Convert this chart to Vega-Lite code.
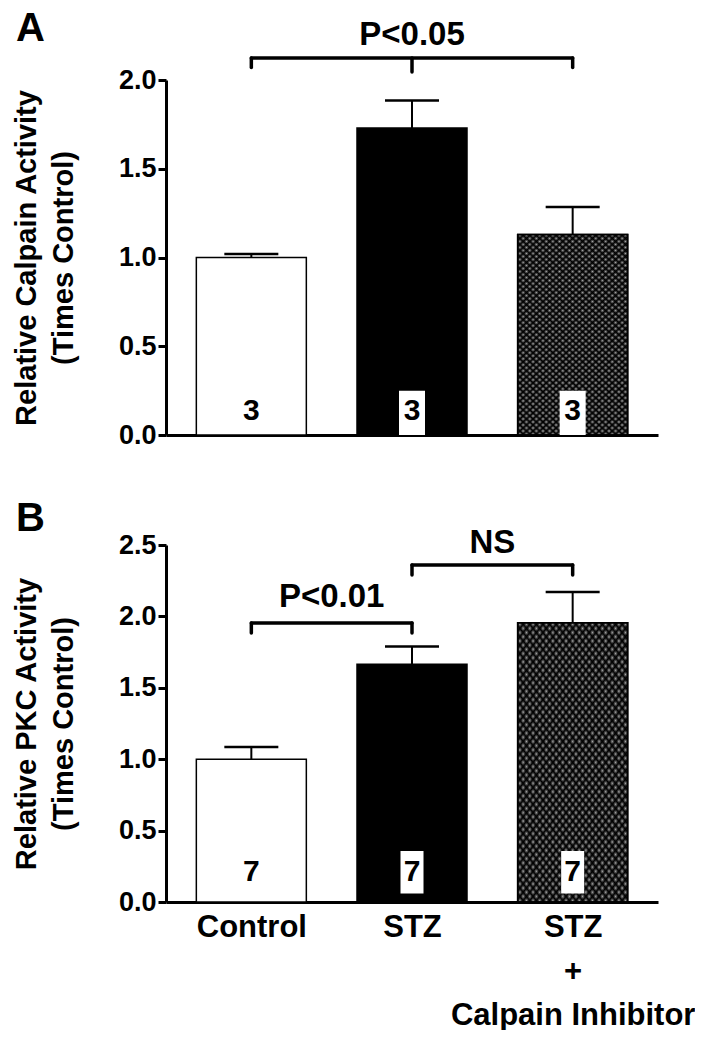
{
  "$schema": "https://vega.github.io/schema/vega-lite/v6.json",
  "background": "white",
  "padding": {"left": 12, "top": 8, "right": 0, "bottom": 0},
  "spacing": 51,
  "config": {
    "font": "Liberation Sans",
    "view": {"stroke": null},
    "axis": {"domainColor": "#000", "domainWidth": 3, "tickColor": "#000", "tickWidth": 3, "labelColor": "#000", "titleColor": "#000", "grid": false, "labelFont": "Liberation Sans", "labelFontWeight": "bold", "titleFont": "Liberation Sans", "titleFontWeight": "bold", "zindex": 1},
    "title": {"font": "Liberation Sans", "fontWeight": "bold", "fontSize": 40, "color": "#000", "anchor": "start", "frame": "group"},
    "text": {"color": "#000"}
  },
  "datasets": {
    "A": [
      {"group": "Control", "pos": 1, "mean": 1.0, "upper": 1.02, "n": "3"},
      {"group": "STZ", "pos": 2, "mean": 1.73, "upper": 1.885, "n": "3"},
      {"group": "STZ + Calpain Inhibitor", "pos": 3, "mean": 1.13, "upper": 1.285, "n": "3"}
    ],
    "B": [
      {"group": "Control", "pos": 1, "mean": 1.0, "upper": 1.085, "n": "7"},
      {"group": "STZ", "pos": 2, "mean": 1.665, "upper": 1.79, "n": "7"},
      {"group": "STZ + Calpain Inhibitor", "pos": 3, "mean": 1.955, "upper": 2.17, "n": "7"}
    ],
    "bracketsA": [
      {"label": "P<0.05", "from": 1, "to": 3, "mid": 2, "y": 2.124, "tip": 2.07, "midtip": 2.045, "texty": 2.254}
    ],
    "bracketsB": [
      {"label": "P<0.01", "from": 1, "to": 2, "mid": 1.5, "y": 1.954, "tip": 1.884, "texty": 2.136},
      {"label": "NS", "from": 2, "to": 3, "mid": 2.5, "y": 2.36, "tip": 2.29, "texty": 2.514}
    ]
  },
  "vconcat": [
    {
      "width": 492,
      "height": 355,
      "title": {"text": "A", "dx": -150, "offset": -30},
      "layer": [
        {
          "data": {"name": "A"},
          "mark": {"type": "bar", "orient": "vertical", "width": 110, "stroke": "#000", "strokeWidth": 1.5},
          "encoding": {
            "x": {"field": "pos", "type": "quantitative", "scale": {"domain": [0.5, 3.5], "nice": false, "zero": false}, "axis": {"title": null, "labels": false, "ticks": false, "values": [1, 2, 3]}},
            "y": {"field": "mean", "type": "quantitative", "scale": {"domain": [0, 2], "nice": false}, "axis": {"title": ["Relative Calpain Activity", "(Times Control)"], "values": [0, 0.5, 1, 1.5, 2], "format": ".1f", "labelFontSize": 27, "tickSize": 8, "labelPadding": 2, "titleFontSize": 29, "titleLineHeight": 37, "titlePadding": 40}},
            "fill": {"field": "group", "type": "nominal", "scale": {"domain": ["Control", "STZ", "STZ + Calpain Inhibitor"], "range": ["#ffffff", "#000000", "#a8a8a8"]}, "legend": null}
          }
        },
        {
          "data": {"name": "A"},
          "transform": [{"filter": "datum.pos == 3"}],
          "mark": {"type": "bar", "orient": "vertical", "width": 110, "strokeWidth": 0, "fill": {"gradient": "linear", "x1": 0, "y1": 0, "x2": 0.6, "y2": 1.2, "stops": [{"offset":0,"color":"#000"},{"offset":0.01,"color":"transparent"},{"offset":0.02,"color":"#000"},{"offset":0.03,"color":"transparent"},{"offset":0.04,"color":"#000"},{"offset":0.05,"color":"transparent"},{"offset":0.06,"color":"#000"},{"offset":0.07,"color":"transparent"},{"offset":0.08,"color":"#000"},{"offset":0.09,"color":"transparent"},{"offset":0.1,"color":"#000"},{"offset":0.11,"color":"transparent"},{"offset":0.12,"color":"#000"},{"offset":0.13,"color":"transparent"},{"offset":0.14,"color":"#000"},{"offset":0.15,"color":"transparent"},{"offset":0.16,"color":"#000"},{"offset":0.17,"color":"transparent"},{"offset":0.18,"color":"#000"},{"offset":0.19,"color":"transparent"},{"offset":0.2,"color":"#000"},{"offset":0.21,"color":"transparent"},{"offset":0.22,"color":"#000"},{"offset":0.23,"color":"transparent"},{"offset":0.24,"color":"#000"},{"offset":0.25,"color":"transparent"},{"offset":0.26,"color":"#000"},{"offset":0.27,"color":"transparent"},{"offset":0.28,"color":"#000"},{"offset":0.29,"color":"transparent"},{"offset":0.3,"color":"#000"},{"offset":0.31,"color":"transparent"},{"offset":0.32,"color":"#000"},{"offset":0.33,"color":"transparent"},{"offset":0.34,"color":"#000"},{"offset":0.35,"color":"transparent"},{"offset":0.36,"color":"#000"},{"offset":0.37,"color":"transparent"},{"offset":0.38,"color":"#000"},{"offset":0.39,"color":"transparent"},{"offset":0.4,"color":"#000"},{"offset":0.41,"color":"transparent"},{"offset":0.42,"color":"#000"},{"offset":0.43,"color":"transparent"},{"offset":0.44,"color":"#000"},{"offset":0.45,"color":"transparent"},{"offset":0.46,"color":"#000"},{"offset":0.47,"color":"transparent"},{"offset":0.48,"color":"#000"},{"offset":0.49,"color":"transparent"},{"offset":0.5,"color":"#000"},{"offset":0.51,"color":"transparent"},{"offset":0.52,"color":"#000"},{"offset":0.53,"color":"transparent"},{"offset":0.54,"color":"#000"},{"offset":0.55,"color":"transparent"},{"offset":0.56,"color":"#000"},{"offset":0.57,"color":"transparent"},{"offset":0.58,"color":"#000"},{"offset":0.59,"color":"transparent"},{"offset":0.6,"color":"#000"},{"offset":0.61,"color":"transparent"},{"offset":0.62,"color":"#000"},{"offset":0.63,"color":"transparent"},{"offset":0.64,"color":"#000"},{"offset":0.65,"color":"transparent"},{"offset":0.66,"color":"#000"},{"offset":0.67,"color":"transparent"},{"offset":0.68,"color":"#000"},{"offset":0.69,"color":"transparent"},{"offset":0.7,"color":"#000"},{"offset":0.71,"color":"transparent"},{"offset":0.72,"color":"#000"},{"offset":0.73,"color":"transparent"},{"offset":0.74,"color":"#000"},{"offset":0.75,"color":"transparent"},{"offset":0.76,"color":"#000"},{"offset":0.77,"color":"transparent"},{"offset":0.78,"color":"#000"},{"offset":0.79,"color":"transparent"},{"offset":0.8,"color":"#000"},{"offset":0.81,"color":"transparent"},{"offset":0.82,"color":"#000"},{"offset":0.83,"color":"transparent"},{"offset":0.84,"color":"#000"},{"offset":0.85,"color":"transparent"},{"offset":0.86,"color":"#000"},{"offset":0.87,"color":"transparent"},{"offset":0.88,"color":"#000"},{"offset":0.89,"color":"transparent"},{"offset":0.9,"color":"#000"},{"offset":0.91,"color":"transparent"},{"offset":0.92,"color":"#000"},{"offset":0.93,"color":"transparent"},{"offset":0.94,"color":"#000"},{"offset":0.95,"color":"transparent"},{"offset":0.96,"color":"#000"},{"offset":0.97,"color":"transparent"},{"offset":0.98,"color":"#000"},{"offset":0.99,"color":"transparent"},{"offset":1,"color":"#000"}]}},
          "encoding": {"x": {"field": "pos", "type": "quantitative"}, "y": {"field": "mean", "type": "quantitative"}}
        },
        {
          "data": {"name": "A"},
          "transform": [{"filter": "datum.pos == 3"}],
          "mark": {"type": "bar", "orient": "vertical", "width": 110, "stroke": "#000", "strokeWidth": 1.5, "fill": {"gradient": "linear", "x1": 0, "y1": 1, "x2": 0.6, "y2": -0.2, "stops": [{"offset":0,"color":"#000"},{"offset":0.01,"color":"transparent"},{"offset":0.02,"color":"#000"},{"offset":0.03,"color":"transparent"},{"offset":0.04,"color":"#000"},{"offset":0.05,"color":"transparent"},{"offset":0.06,"color":"#000"},{"offset":0.07,"color":"transparent"},{"offset":0.08,"color":"#000"},{"offset":0.09,"color":"transparent"},{"offset":0.1,"color":"#000"},{"offset":0.11,"color":"transparent"},{"offset":0.12,"color":"#000"},{"offset":0.13,"color":"transparent"},{"offset":0.14,"color":"#000"},{"offset":0.15,"color":"transparent"},{"offset":0.16,"color":"#000"},{"offset":0.17,"color":"transparent"},{"offset":0.18,"color":"#000"},{"offset":0.19,"color":"transparent"},{"offset":0.2,"color":"#000"},{"offset":0.21,"color":"transparent"},{"offset":0.22,"color":"#000"},{"offset":0.23,"color":"transparent"},{"offset":0.24,"color":"#000"},{"offset":0.25,"color":"transparent"},{"offset":0.26,"color":"#000"},{"offset":0.27,"color":"transparent"},{"offset":0.28,"color":"#000"},{"offset":0.29,"color":"transparent"},{"offset":0.3,"color":"#000"},{"offset":0.31,"color":"transparent"},{"offset":0.32,"color":"#000"},{"offset":0.33,"color":"transparent"},{"offset":0.34,"color":"#000"},{"offset":0.35,"color":"transparent"},{"offset":0.36,"color":"#000"},{"offset":0.37,"color":"transparent"},{"offset":0.38,"color":"#000"},{"offset":0.39,"color":"transparent"},{"offset":0.4,"color":"#000"},{"offset":0.41,"color":"transparent"},{"offset":0.42,"color":"#000"},{"offset":0.43,"color":"transparent"},{"offset":0.44,"color":"#000"},{"offset":0.45,"color":"transparent"},{"offset":0.46,"color":"#000"},{"offset":0.47,"color":"transparent"},{"offset":0.48,"color":"#000"},{"offset":0.49,"color":"transparent"},{"offset":0.5,"color":"#000"},{"offset":0.51,"color":"transparent"},{"offset":0.52,"color":"#000"},{"offset":0.53,"color":"transparent"},{"offset":0.54,"color":"#000"},{"offset":0.55,"color":"transparent"},{"offset":0.56,"color":"#000"},{"offset":0.57,"color":"transparent"},{"offset":0.58,"color":"#000"},{"offset":0.59,"color":"transparent"},{"offset":0.6,"color":"#000"},{"offset":0.61,"color":"transparent"},{"offset":0.62,"color":"#000"},{"offset":0.63,"color":"transparent"},{"offset":0.64,"color":"#000"},{"offset":0.65,"color":"transparent"},{"offset":0.66,"color":"#000"},{"offset":0.67,"color":"transparent"},{"offset":0.68,"color":"#000"},{"offset":0.69,"color":"transparent"},{"offset":0.7,"color":"#000"},{"offset":0.71,"color":"transparent"},{"offset":0.72,"color":"#000"},{"offset":0.73,"color":"transparent"},{"offset":0.74,"color":"#000"},{"offset":0.75,"color":"transparent"},{"offset":0.76,"color":"#000"},{"offset":0.77,"color":"transparent"},{"offset":0.78,"color":"#000"},{"offset":0.79,"color":"transparent"},{"offset":0.8,"color":"#000"},{"offset":0.81,"color":"transparent"},{"offset":0.82,"color":"#000"},{"offset":0.83,"color":"transparent"},{"offset":0.84,"color":"#000"},{"offset":0.85,"color":"transparent"},{"offset":0.86,"color":"#000"},{"offset":0.87,"color":"transparent"},{"offset":0.88,"color":"#000"},{"offset":0.89,"color":"transparent"},{"offset":0.9,"color":"#000"},{"offset":0.91,"color":"transparent"},{"offset":0.92,"color":"#000"},{"offset":0.93,"color":"transparent"},{"offset":0.94,"color":"#000"},{"offset":0.95,"color":"transparent"},{"offset":0.96,"color":"#000"},{"offset":0.97,"color":"transparent"},{"offset":0.98,"color":"#000"},{"offset":0.99,"color":"transparent"},{"offset":1,"color":"#000"}]}},
          "encoding": {"x": {"field": "pos", "type": "quantitative"}, "y": {"field": "mean", "type": "quantitative"}}
        },
        {
          "data": {"name": "A"},
          "transform": [{"filter": "datum.pos >= 2"}],
          "mark": {"type": "bar", "orient": "vertical", "width": 26, "fill": "#ffffff"},
          "encoding": {"x": {"field": "pos", "type": "quantitative"}, "y": {"datum": 0}, "y2": {"datum": 0.25}}
        },
        {
          "data": {"name": "A"},
          "mark": {"type": "text", "fontSize": 30, "fontWeight": "bold", "baseline": "middle"},
          "encoding": {"x": {"field": "pos", "type": "quantitative"}, "y": {"datum": 0.135}, "text": {"field": "n"}}
        },
        {
          "data": {"name": "A"},
          "mark": {"type": "rule", "strokeWidth": 2, "color": "#000"},
          "encoding": {"x": {"field": "pos", "type": "quantitative"}, "y": {"field": "mean", "type": "quantitative"}, "y2": {"field": "upper"}}
        },
        {
          "data": {"name": "A"},
          "mark": {"type": "rule", "strokeWidth": 2.5, "color": "#000", "xOffset": -27, "x2Offset": 27},
          "encoding": {"x": {"field": "pos", "type": "quantitative"}, "x2": {"field": "pos"}, "y": {"field": "upper", "type": "quantitative"}}
        },
        {
          "data": {"name": "bracketsA"},
          "mark": {"type": "rule", "strokeWidth": 3.5, "strokeCap": "round", "color": "#000"},
          "encoding": {"x": {"field": "from", "type": "quantitative"}, "x2": {"field": "to"}, "y": {"field": "y", "type": "quantitative"}}
        },
        {
          "data": {"name": "bracketsA"},
          "mark": {"type": "rule", "strokeWidth": 3.5, "strokeCap": "round", "color": "#000"},
          "encoding": {"x": {"field": "from", "type": "quantitative"}, "y": {"field": "y", "type": "quantitative"}, "y2": {"field": "tip"}}
        },
        {
          "data": {"name": "bracketsA"},
          "mark": {"type": "rule", "strokeWidth": 3.5, "strokeCap": "round", "color": "#000"},
          "encoding": {"x": {"field": "to", "type": "quantitative"}, "y": {"field": "y", "type": "quantitative"}, "y2": {"field": "tip"}}
        },
        {
          "data": {"name": "bracketsA"},
          "mark": {"type": "rule", "strokeWidth": 3.5, "strokeCap": "round", "color": "#000"},
          "encoding": {"x": {"field": "mid", "type": "quantitative"}, "y": {"field": "y", "type": "quantitative"}, "y2": {"field": "midtip"}}
        },
        {
          "data": {"name": "bracketsA"},
          "mark": {"type": "text", "fontSize": 33, "fontWeight": "bold", "baseline": "middle"},
          "encoding": {"x": {"field": "mid", "type": "quantitative"}, "y": {"field": "texty", "type": "quantitative"}, "text": {"field": "label"}}
        }
      ]
    },
    {
      "width": 492,
      "height": 357,
      "title": {"text": "B", "dx": -150, "offset": -12},
      "layer": [
        {
          "data": {"name": "B"},
          "mark": {"type": "bar", "orient": "vertical", "width": 110, "stroke": "#000", "strokeWidth": 1.5},
          "encoding": {
            "x": {"field": "pos", "type": "quantitative", "scale": {"domain": [0.5, 3.5], "nice": false, "zero": false}, "axis": {"title": null, "ticks": false, "values": [1, 2, 3], "labelExpr": "datum.value == 1 ? 'Control' : datum.value == 2 ? 'STZ' : ['STZ', '+', 'Calpain Inhibitor']", "labelFontSize": 31, "labelPadding": 10, "labelLineHeight": 44, "labelOverlap": false, "labelBound": false, "labelFlush": false, "labelLimit": 0, "labelBaseline": "top"}},
            "y": {"field": "mean", "type": "quantitative", "scale": {"domain": [0, 2.5], "nice": false}, "axis": {"title": ["Relative PKC Activity", "(Times Control)"], "values": [0, 0.5, 1, 1.5, 2, 2.5], "format": ".1f", "labelFontSize": 27, "tickSize": 8, "labelPadding": 2, "titleFontSize": 29, "titleLineHeight": 37, "titlePadding": 40}},
            "fill": {"field": "group", "type": "nominal", "scale": {"domain": ["Control", "STZ", "STZ + Calpain Inhibitor"], "range": ["#ffffff", "#000000", "#a8a8a8"]}, "legend": null}
          }
        },
        {
          "data": {"name": "B"},
          "transform": [{"filter": "datum.pos == 3"}],
          "mark": {"type": "bar", "orient": "vertical", "width": 110, "strokeWidth": 0, "fill": {"gradient": "linear", "x1": 0, "y1": 0, "x2": 0.6, "y2": 1.2, "stops": [{"offset":0,"color":"#000"},{"offset":0.01,"color":"transparent"},{"offset":0.02,"color":"#000"},{"offset":0.03,"color":"transparent"},{"offset":0.04,"color":"#000"},{"offset":0.05,"color":"transparent"},{"offset":0.06,"color":"#000"},{"offset":0.07,"color":"transparent"},{"offset":0.08,"color":"#000"},{"offset":0.09,"color":"transparent"},{"offset":0.1,"color":"#000"},{"offset":0.11,"color":"transparent"},{"offset":0.12,"color":"#000"},{"offset":0.13,"color":"transparent"},{"offset":0.14,"color":"#000"},{"offset":0.15,"color":"transparent"},{"offset":0.16,"color":"#000"},{"offset":0.17,"color":"transparent"},{"offset":0.18,"color":"#000"},{"offset":0.19,"color":"transparent"},{"offset":0.2,"color":"#000"},{"offset":0.21,"color":"transparent"},{"offset":0.22,"color":"#000"},{"offset":0.23,"color":"transparent"},{"offset":0.24,"color":"#000"},{"offset":0.25,"color":"transparent"},{"offset":0.26,"color":"#000"},{"offset":0.27,"color":"transparent"},{"offset":0.28,"color":"#000"},{"offset":0.29,"color":"transparent"},{"offset":0.3,"color":"#000"},{"offset":0.31,"color":"transparent"},{"offset":0.32,"color":"#000"},{"offset":0.33,"color":"transparent"},{"offset":0.34,"color":"#000"},{"offset":0.35,"color":"transparent"},{"offset":0.36,"color":"#000"},{"offset":0.37,"color":"transparent"},{"offset":0.38,"color":"#000"},{"offset":0.39,"color":"transparent"},{"offset":0.4,"color":"#000"},{"offset":0.41,"color":"transparent"},{"offset":0.42,"color":"#000"},{"offset":0.43,"color":"transparent"},{"offset":0.44,"color":"#000"},{"offset":0.45,"color":"transparent"},{"offset":0.46,"color":"#000"},{"offset":0.47,"color":"transparent"},{"offset":0.48,"color":"#000"},{"offset":0.49,"color":"transparent"},{"offset":0.5,"color":"#000"},{"offset":0.51,"color":"transparent"},{"offset":0.52,"color":"#000"},{"offset":0.53,"color":"transparent"},{"offset":0.54,"color":"#000"},{"offset":0.55,"color":"transparent"},{"offset":0.56,"color":"#000"},{"offset":0.57,"color":"transparent"},{"offset":0.58,"color":"#000"},{"offset":0.59,"color":"transparent"},{"offset":0.6,"color":"#000"},{"offset":0.61,"color":"transparent"},{"offset":0.62,"color":"#000"},{"offset":0.63,"color":"transparent"},{"offset":0.64,"color":"#000"},{"offset":0.65,"color":"transparent"},{"offset":0.66,"color":"#000"},{"offset":0.67,"color":"transparent"},{"offset":0.68,"color":"#000"},{"offset":0.69,"color":"transparent"},{"offset":0.7,"color":"#000"},{"offset":0.71,"color":"transparent"},{"offset":0.72,"color":"#000"},{"offset":0.73,"color":"transparent"},{"offset":0.74,"color":"#000"},{"offset":0.75,"color":"transparent"},{"offset":0.76,"color":"#000"},{"offset":0.77,"color":"transparent"},{"offset":0.78,"color":"#000"},{"offset":0.79,"color":"transparent"},{"offset":0.8,"color":"#000"},{"offset":0.81,"color":"transparent"},{"offset":0.82,"color":"#000"},{"offset":0.83,"color":"transparent"},{"offset":0.84,"color":"#000"},{"offset":0.85,"color":"transparent"},{"offset":0.86,"color":"#000"},{"offset":0.87,"color":"transparent"},{"offset":0.88,"color":"#000"},{"offset":0.89,"color":"transparent"},{"offset":0.9,"color":"#000"},{"offset":0.91,"color":"transparent"},{"offset":0.92,"color":"#000"},{"offset":0.93,"color":"transparent"},{"offset":0.94,"color":"#000"},{"offset":0.95,"color":"transparent"},{"offset":0.96,"color":"#000"},{"offset":0.97,"color":"transparent"},{"offset":0.98,"color":"#000"},{"offset":0.99,"color":"transparent"},{"offset":1,"color":"#000"}]}},
          "encoding": {"x": {"field": "pos", "type": "quantitative"}, "y": {"field": "mean", "type": "quantitative"}}
        },
        {
          "data": {"name": "B"},
          "transform": [{"filter": "datum.pos == 3"}],
          "mark": {"type": "bar", "orient": "vertical", "width": 110, "stroke": "#000", "strokeWidth": 1.5, "fill": {"gradient": "linear", "x1": 0, "y1": 1, "x2": 0.6, "y2": -0.2, "stops": [{"offset":0,"color":"#000"},{"offset":0.01,"color":"transparent"},{"offset":0.02,"color":"#000"},{"offset":0.03,"color":"transparent"},{"offset":0.04,"color":"#000"},{"offset":0.05,"color":"transparent"},{"offset":0.06,"color":"#000"},{"offset":0.07,"color":"transparent"},{"offset":0.08,"color":"#000"},{"offset":0.09,"color":"transparent"},{"offset":0.1,"color":"#000"},{"offset":0.11,"color":"transparent"},{"offset":0.12,"color":"#000"},{"offset":0.13,"color":"transparent"},{"offset":0.14,"color":"#000"},{"offset":0.15,"color":"transparent"},{"offset":0.16,"color":"#000"},{"offset":0.17,"color":"transparent"},{"offset":0.18,"color":"#000"},{"offset":0.19,"color":"transparent"},{"offset":0.2,"color":"#000"},{"offset":0.21,"color":"transparent"},{"offset":0.22,"color":"#000"},{"offset":0.23,"color":"transparent"},{"offset":0.24,"color":"#000"},{"offset":0.25,"color":"transparent"},{"offset":0.26,"color":"#000"},{"offset":0.27,"color":"transparent"},{"offset":0.28,"color":"#000"},{"offset":0.29,"color":"transparent"},{"offset":0.3,"color":"#000"},{"offset":0.31,"color":"transparent"},{"offset":0.32,"color":"#000"},{"offset":0.33,"color":"transparent"},{"offset":0.34,"color":"#000"},{"offset":0.35,"color":"transparent"},{"offset":0.36,"color":"#000"},{"offset":0.37,"color":"transparent"},{"offset":0.38,"color":"#000"},{"offset":0.39,"color":"transparent"},{"offset":0.4,"color":"#000"},{"offset":0.41,"color":"transparent"},{"offset":0.42,"color":"#000"},{"offset":0.43,"color":"transparent"},{"offset":0.44,"color":"#000"},{"offset":0.45,"color":"transparent"},{"offset":0.46,"color":"#000"},{"offset":0.47,"color":"transparent"},{"offset":0.48,"color":"#000"},{"offset":0.49,"color":"transparent"},{"offset":0.5,"color":"#000"},{"offset":0.51,"color":"transparent"},{"offset":0.52,"color":"#000"},{"offset":0.53,"color":"transparent"},{"offset":0.54,"color":"#000"},{"offset":0.55,"color":"transparent"},{"offset":0.56,"color":"#000"},{"offset":0.57,"color":"transparent"},{"offset":0.58,"color":"#000"},{"offset":0.59,"color":"transparent"},{"offset":0.6,"color":"#000"},{"offset":0.61,"color":"transparent"},{"offset":0.62,"color":"#000"},{"offset":0.63,"color":"transparent"},{"offset":0.64,"color":"#000"},{"offset":0.65,"color":"transparent"},{"offset":0.66,"color":"#000"},{"offset":0.67,"color":"transparent"},{"offset":0.68,"color":"#000"},{"offset":0.69,"color":"transparent"},{"offset":0.7,"color":"#000"},{"offset":0.71,"color":"transparent"},{"offset":0.72,"color":"#000"},{"offset":0.73,"color":"transparent"},{"offset":0.74,"color":"#000"},{"offset":0.75,"color":"transparent"},{"offset":0.76,"color":"#000"},{"offset":0.77,"color":"transparent"},{"offset":0.78,"color":"#000"},{"offset":0.79,"color":"transparent"},{"offset":0.8,"color":"#000"},{"offset":0.81,"color":"transparent"},{"offset":0.82,"color":"#000"},{"offset":0.83,"color":"transparent"},{"offset":0.84,"color":"#000"},{"offset":0.85,"color":"transparent"},{"offset":0.86,"color":"#000"},{"offset":0.87,"color":"transparent"},{"offset":0.88,"color":"#000"},{"offset":0.89,"color":"transparent"},{"offset":0.9,"color":"#000"},{"offset":0.91,"color":"transparent"},{"offset":0.92,"color":"#000"},{"offset":0.93,"color":"transparent"},{"offset":0.94,"color":"#000"},{"offset":0.95,"color":"transparent"},{"offset":0.96,"color":"#000"},{"offset":0.97,"color":"transparent"},{"offset":0.98,"color":"#000"},{"offset":0.99,"color":"transparent"},{"offset":1,"color":"#000"}]}},
          "encoding": {"x": {"field": "pos", "type": "quantitative"}, "y": {"field": "mean", "type": "quantitative"}}
        },
        {
          "data": {"name": "B"},
          "transform": [{"filter": "datum.pos >= 2"}],
          "mark": {"type": "bar", "orient": "vertical", "width": 23, "fill": "#ffffff"},
          "encoding": {"x": {"field": "pos", "type": "quantitative"}, "y": {"datum": 0.06}, "y2": {"datum": 0.357}}
        },
        {
          "data": {"name": "B"},
          "mark": {"type": "text", "fontSize": 30, "fontWeight": "bold", "baseline": "middle"},
          "encoding": {"x": {"field": "pos", "type": "quantitative"}, "y": {"datum": 0.21}, "text": {"field": "n"}}
        },
        {
          "data": {"name": "B"},
          "mark": {"type": "rule", "strokeWidth": 2, "color": "#000"},
          "encoding": {"x": {"field": "pos", "type": "quantitative"}, "y": {"field": "mean", "type": "quantitative"}, "y2": {"field": "upper"}}
        },
        {
          "data": {"name": "B"},
          "mark": {"type": "rule", "strokeWidth": 2.5, "color": "#000", "xOffset": -27, "x2Offset": 27},
          "encoding": {"x": {"field": "pos", "type": "quantitative"}, "x2": {"field": "pos"}, "y": {"field": "upper", "type": "quantitative"}}
        },
        {
          "data": {"name": "bracketsB"},
          "mark": {"type": "rule", "strokeWidth": 3.5, "strokeCap": "round", "color": "#000"},
          "encoding": {"x": {"field": "from", "type": "quantitative"}, "x2": {"field": "to"}, "y": {"field": "y", "type": "quantitative"}}
        },
        {
          "data": {"name": "bracketsB"},
          "mark": {"type": "rule", "strokeWidth": 3.5, "strokeCap": "round", "color": "#000"},
          "encoding": {"x": {"field": "from", "type": "quantitative"}, "y": {"field": "y", "type": "quantitative"}, "y2": {"field": "tip"}}
        },
        {
          "data": {"name": "bracketsB"},
          "mark": {"type": "rule", "strokeWidth": 3.5, "strokeCap": "round", "color": "#000"},
          "encoding": {"x": {"field": "to", "type": "quantitative"}, "y": {"field": "y", "type": "quantitative"}, "y2": {"field": "tip"}}
        },
        {
          "data": {"name": "bracketsB"},
          "mark": {"type": "text", "fontSize": 33, "fontWeight": "bold", "baseline": "middle"},
          "encoding": {"x": {"field": "mid", "type": "quantitative"}, "y": {"field": "texty", "type": "quantitative"}, "text": {"field": "label"}}
        }
      ]
    }
  ]
}
